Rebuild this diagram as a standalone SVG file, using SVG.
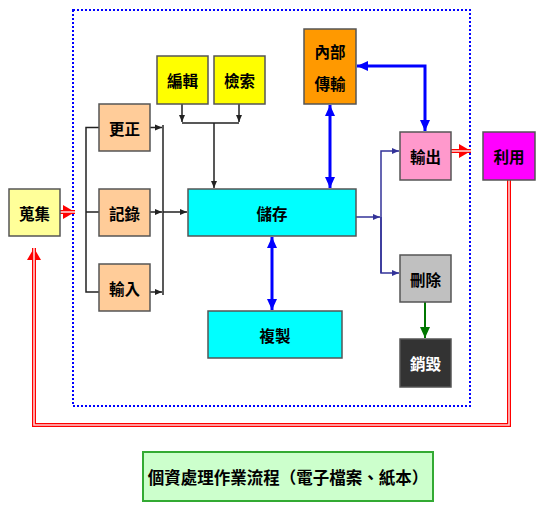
<svg xmlns="http://www.w3.org/2000/svg" width="540" height="507" viewBox="0 0 540 507">
<style>
.box{stroke:#555;stroke-width:1.5}
.t{font-family:"Noto Sans CJK TC","Noto Sans CJK SC",sans-serif;font-size:15.5px;font-weight:bold;fill:#000;text-anchor:middle;dominant-baseline:central}
.blk{fill:none;stroke:#222;stroke-width:1.5}
.blu{fill:none;stroke:#0000ff;stroke-width:3}
.nav{fill:none;stroke:#333399;stroke-width:1.5}
.grn{fill:none;stroke:#007700;stroke-width:2}
.red{fill:none;stroke:#ff0000;stroke-width:4}
.redin{fill:none;stroke:#ffd0d0;stroke-width:1.6}
</style>
<defs>
<marker id="ak" markerUnits="userSpaceOnUse" markerWidth="8" markerHeight="8" refX="7" refY="4" orient="auto"><path d="M0,1 L7,4 L0,7 Z" fill="#222"/></marker>
<marker id="ab" markerUnits="userSpaceOnUse" markerWidth="12" markerHeight="12" refX="11" refY="6" orient="auto-start-reverse"><path d="M0,1 L11,6 L0,11 Z" fill="#0000ff"/></marker>
<marker id="an" markerUnits="userSpaceOnUse" markerWidth="8" markerHeight="8" refX="7" refY="4" orient="auto"><path d="M0,1 L7,4 L0,7 Z" fill="#333399"/></marker>
<marker id="ag" markerUnits="userSpaceOnUse" markerWidth="12" markerHeight="12" refX="11" refY="6" orient="auto"><path d="M0,1 L11,6 L0,11 Z" fill="#007700"/></marker>
<marker id="ar" markerUnits="userSpaceOnUse" markerWidth="14" markerHeight="14" refX="12" refY="7" orient="auto"><path d="M0,0 L12,7 L0,14 Z" fill="#ff0000"/></marker>
</defs>
<rect width="540" height="507" fill="#fff"/>
<rect x="73" y="10" width="397" height="396" fill="none" stroke="#0000ff" stroke-width="2" stroke-dasharray="2,2"/>

<g id="connectors">
<path class="red" d="M60,212 H75" marker-end="url(#ar)"/>
<path class="redin" d="M60,212 H75"/>
<path class="red" d="M451,151 H471" marker-end="url(#ar)"/>
<path class="redin" d="M451,151 H471"/>
<path class="red" d="M509,180 V425 H34 V248" marker-end="url(#ar)"/>
<path class="redin" d="M509,180 V425 H34 V248"/>
<path class="blk" d="M99,127.5 H86 V292 H99 M86,212 H99"/>
<path class="blk" d="M150,127.5 H162" marker-end="url(#ak)"/>
<path class="blk" d="M150,212 H162" marker-end="url(#ak)"/>
<path class="blk" d="M150,292 H162" marker-end="url(#ak)"/>
<path class="blk" d="M163,125 V295"/>
<path class="blk" d="M163,212 H187" marker-end="url(#ak)"/>
<path class="blk" d="M182,104 V122" marker-end="url(#ak)"/>
<path class="blk" d="M239,104 V122" marker-end="url(#ak)"/>
<path class="blk" d="M182,123 H239 M214,123 V188" marker-end="url(#ak)"/>
<path class="blu" d="M330,105 V188" marker-start="url(#ab)" marker-end="url(#ab)"/>
<path class="blu" d="M357,66 H425 V131" marker-start="url(#ab)" marker-end="url(#ab)"/>
<path class="blu" d="M272,237 V310" marker-start="url(#ab)" marker-end="url(#ab)"/>
<path class="nav" d="M356,217 H380" marker-end="url(#an)"/>
<path class="nav" d="M381,273 V151 H399" marker-end="url(#an)"/>
<path class="nav" d="M381,217 V273 H399" marker-end="url(#an)"/>
<path class="grn" d="M425,302 V338" marker-end="url(#ag)"/>
</g>

<g id="n-collect"><rect class="box" x="9" y="189" width="51" height="47" fill="#ffff99"/><text class="t" x="34.5" y="212.5">蒐集</text></g>
<g id="n-correct"><rect class="box" x="99" y="104" width="51" height="47" fill="#ffcc99"/><text class="t" x="124.5" y="127.5">更正</text></g>
<g id="n-record"><rect class="box" x="99" y="189" width="51" height="47" fill="#ffcc99"/><text class="t" x="124.5" y="212.5">記錄</text></g>
<g id="n-input"><rect class="box" x="99" y="264" width="51" height="47" fill="#ffcc99"/><text class="t" x="124.5" y="287.5">輸入</text></g>
<g id="n-edit"><rect class="box" x="157" y="56" width="51" height="48" fill="#ffff00"/><text class="t" x="182.5" y="80">編輯</text></g>
<g id="n-search"><rect class="box" x="214" y="56" width="51" height="48" fill="#ffff00"/><text class="t" x="239.5" y="80">檢索</text></g>
<g id="n-store"><rect class="box" x="188" y="189" width="168" height="47" fill="#00ffff"/><text class="t" x="272" y="212.5">儲存</text></g>
<g id="n-copy"><rect class="box" x="208" y="311" width="134" height="47" fill="#00ffff"/><text class="t" x="275" y="334.5">複製</text></g>
<g id="n-internal"><rect class="box" x="304" y="29" width="52" height="75" fill="#ff9900"/><text class="t" x="330" y="51">內部</text><text class="t" x="330" y="83">傳輸</text></g>
<g id="n-output"><rect class="box" x="400" y="132" width="51" height="48" fill="#ff99cc"/><text class="t" x="425.5" y="156">輸出</text></g>
<g id="n-use"><rect class="box" x="483" y="132" width="52" height="48" fill="#ff00ff"/><text class="t" x="509" y="156">利用</text></g>
<g id="n-delete"><rect class="box" x="400" y="255" width="51" height="47" fill="#c0c0c0"/><text class="t" x="425.5" y="278.5">刪除</text></g>
<g id="n-destroy"><rect class="box" x="400" y="339" width="51" height="48" fill="#333333"/><text class="t" x="425.5" y="363" style="fill:#fff">銷毀</text></g>
<g id="n-title"><rect x="143" y="452" width="290" height="49" fill="#ccffcc" stroke="#33aa33" stroke-width="2"/><text class="t" x="288" y="476.5" style="font-size:16.5px">個資處理作業流程（電子檔案、紙本）</text></g>
</svg>
